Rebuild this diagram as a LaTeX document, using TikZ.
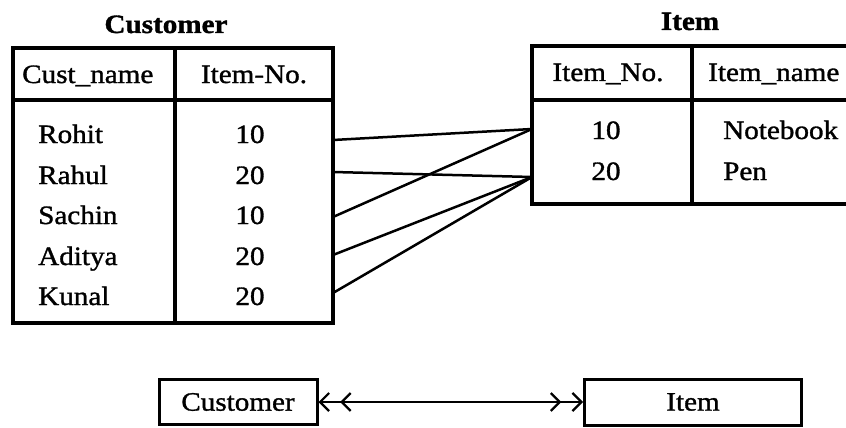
\documentclass[tikz,border=0pt]{standalone}
\usepackage{fontspec}
\setmainfont{Liberation Serif}[FakeStretch=1.1,FakeBold=1.2]
\usetikzlibrary{arrows.meta}
\tikzset{barb/.tip={Straight Barb[length=9pt,width=18pt,line width=2.2pt]}}
\begin{document}
\begin{tikzpicture}[x=1pt,y=-1pt,
  tbl/.style={line width=3.2pt},
  txt/.style={font=\fontsize{26.5}{30}\selectfont, inner sep=0pt},
  ttl/.style={font=\fontsize{26.5}{30}\selectfont\bfseries, inner sep=0pt},
  conn/.style={line width=2.5pt},
  ent/.style={draw, line width=3pt, inner sep=0pt, font=\fontsize{26.5}{30}\selectfont}]
\useasboundingbox (0,0) rectangle (846,428);
% Customer table
\node[ttl, anchor=base] (ctitle) at (166,33) {Customer};
\draw[tbl] (13,48) rectangle (333,323);
\draw[tbl] (13,100) -- (333,100);
\draw[tbl] (175,48) -- (175,323);
\node[txt, anchor=base west] (ch1) at (22,83) {Cust\_name};
\node[txt, anchor=base] (ch2) at (254,83) {Item-No.};
\node[txt, anchor=base west] (n1) at (38,143) {Rohit};
\node[txt, anchor=base west] (n2) at (38,184) {Rahul};
\node[txt, anchor=base west] (n3) at (38,224) {Sachin};
\node[txt, anchor=base west] (n4) at (38,265) {Aditya};
\node[txt, anchor=base west] (n5) at (38,305) {Kunal};
\node[txt, anchor=base] (v1) at (250,143) {10};
\node[txt, anchor=base] (v2) at (250,184) {20};
\node[txt, anchor=base] (v3) at (250,224) {10};
\node[txt, anchor=base] (v4) at (250,265) {20};
\node[txt, anchor=base] (v5) at (250,305) {20};
% Item table
\node[ttl, anchor=base] (ititle) at (690,30) {Item};
\draw[tbl] (532,46) rectangle (852,204);
\draw[tbl] (532,100) -- (852,100);
\draw[tbl] (692,46) -- (692,204);
\node[txt, anchor=base] (ih1) at (608,81) {Item\_No.};
\node[txt, anchor=base west] (ih2) at (708,81) {Item\_name};
\node[txt, anchor=base] (i1) at (606,139) {10};
\node[txt, anchor=base] (i2) at (606,180) {20};
\node[txt, anchor=base west] (m1) at (723,139) {Notebook};
\node[txt, anchor=base west] (m2) at (723,180) {Pen};
% connection points
\coordinate (c1) at (333,140);
\coordinate (c2) at (333,172);
\coordinate (c3) at (333,217);
\coordinate (c4) at (333,255);
\coordinate (c5) at (333,293);
\coordinate (t1) at (532,129);
\coordinate (t2) at (532,177);
\draw[conn] (c1) -- (t1);
\draw[conn] (c2) -- (t2);
\draw[conn] (c3) -- (t1);
\draw[conn] (c4) -- (t2);
\draw[conn] (c5) -- (t2);
% ER boxes
\node[ent, minimum width=158pt, minimum height=45pt] (ce) at (238,402) {Customer};
\node[ent, minimum width=217pt, minimum height=46pt] (ie) at (693,402) {Item};
\draw[line width=2pt, {barb[]barb[sep=10pt]}-{barb[sep=10pt]barb}]
  (ce.east) -- (ie.west);
\end{tikzpicture}
\end{document}
